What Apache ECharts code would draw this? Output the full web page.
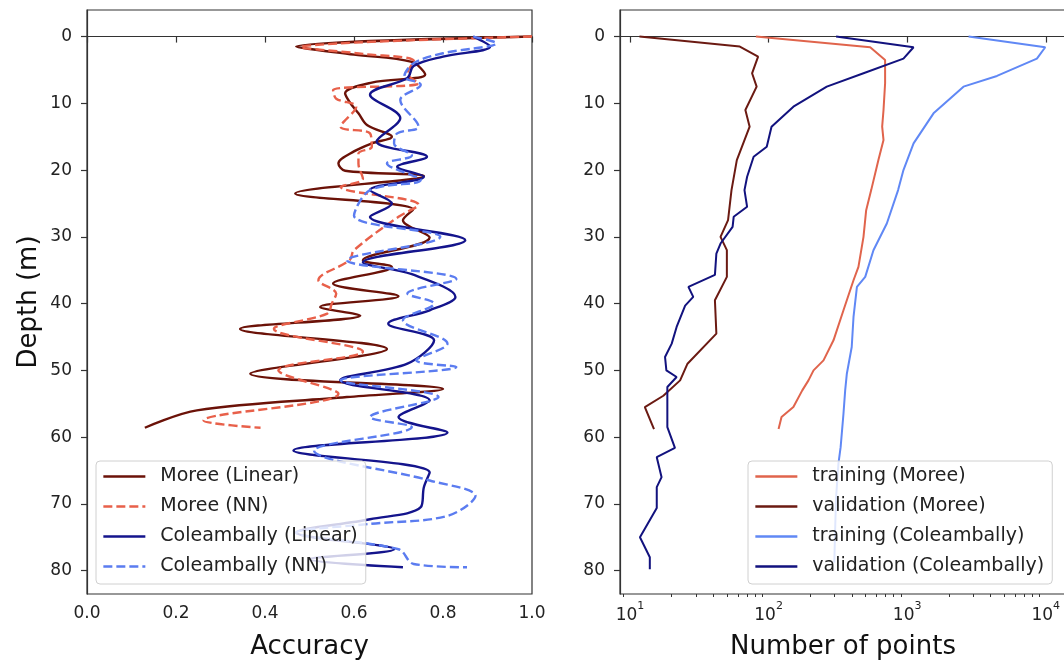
<!DOCTYPE html>
<html><head><meta charset="utf-8">
<script src="https://cdn.jsdelivr.net/npm/echarts@6/dist/echarts.min.js"></script>
<style>html,body{margin:0;padding:0;background:#fff}#c{width:1064px;height:663px}</style>
</head><body><div id="c"></div>
<script>
// ---- tick labels ----
const depthTicks = [0, 10, 20, 30, 40, 50, 60, 70, 80];
const countMajorTicks = [10, 100, 1000, 10000];
const countMinorTicks = [9, 20, 30, 40, 50, 60, 70, 80, 90, 200, 300, 400, 500, 600, 700, 800, 900, 2000, 3000, 4000, 5000, 6000, 7000, 8000, 9000];

// ---- left panel: accuracy vs depth ----
const mooreLinAcc   = [1.00, 0.47, 0.60, 0.73, 0.76, 0.64, 0.58, 0.59, 0.61, 0.63, 0.685, 0.64, 0.60, 0.565, 0.58, 0.757, 0.468, 0.733, 0.71, 0.77, 0.62, 0.685, 0.553, 0.70, 0.524, 0.614, 0.344, 0.674, 0.367, 0.80, 0.584, 0.247, 0.13];
const mooreLinDepth = [0, 1.5, 2.7, 3.8, 5.7, 6.9, 8.5, 9.8, 11.5, 13.3, 15, 16, 17.2, 19, 20.1, 20.9, 23.5, 25.9, 27.5, 30.1, 33.5, 34.5, 37, 38.9, 40.5, 41.8, 43.8, 46.8, 50.5, 52.8, 54, 56, 58.6];

const mooreNNAcc   = [1.0, 0.48, 0.62, 0.735, 0.72, 0.745, 0.553, 0.56, 0.605, 0.57, 0.636, 0.64, 0.61, 0.61, 0.62, 0.57, 0.745, 0.70, 0.60, 0.59, 0.52, 0.56, 0.55, 0.54, 0.42, 0.62, 0.43, 0.565, 0.262, 0.39];
const mooreNNDepth = [0, 1.6, 2.6, 3.7, 5.5, 7.0, 8.0, 9.3, 10.5, 13.5, 14.5, 16.5, 17.5, 19, 21.3, 22.5, 25.2, 27, 32, 33.5, 36.5, 38.5, 40, 41.5, 43.8, 47.2, 50, 53.5, 57.5, 58.6];

const coleLinAcc   = [0.868, 0.906, 0.80, 0.734, 0.72, 0.636, 0.704, 0.651, 0.764, 0.697, 0.757, 0.636, 0.685, 0.636, 0.85, 0.62, 0.73, 0.828, 0.77, 0.677, 0.78, 0.72, 0.569, 0.77, 0.70, 0.81, 0.464, 0.77, 0.757, 0.75, 0.636, 0.47, 0.69, 0.50, 0.71];
const coleLinDepth = [0, 1.5, 3.0, 4.4, 6.2, 8.7, 12.2, 15.7, 18, 19.5, 21, 23, 25, 27, 30.5, 33.8, 35.6, 39, 41, 43, 45.5, 49, 51.5, 54.5, 57, 59.3, 62, 65.3, 67.5, 70.5, 72.3, 74.3, 76.8, 78.3, 79.5];

const coleNNAcc   = [0.868, 0.92, 0.80, 0.734, 0.713, 0.75, 0.704, 0.745, 0.697, 0.69, 0.73, 0.674, 0.75, 0.636, 0.60, 0.794, 0.584, 0.83, 0.72, 0.78, 0.71, 0.81, 0.74, 0.83, 0.57, 0.79, 0.636, 0.73, 0.51, 0.77, 0.873, 0.81, 0.636, 0.47, 0.70, 0.734, 0.854];
const coleNNDepth = [0, 1, 2.5, 4, 6, 7.2, 9.5, 13.5, 14.5, 16, 17.8, 19, 21.5, 23, 26.8, 30, 33.5, 36.3, 38.5, 40, 42.5, 46, 48.5, 49.5, 51.5, 54, 57, 58.5, 62, 66.5, 68.8, 71.8, 73, 74.3, 76.8, 79, 79.5];

// ---- right panel: number of points vs depth ----
const trainMooreN     = [81, 541, 693, 693, 675, 660, 675, 620, 550, 506, 484, 445, 410, 347, 294, 249, 211, 194, 175, 151, 124, 118];
const trainMooreDepth = [0, 1.6, 3.5, 7, 11, 13.5, 15.5, 18.5, 23, 26, 30, 34.5, 36.5, 41, 45.5, 48.5, 50, 51.5, 53, 55.5, 57, 58.8];

const valMooreN     = [11.7, 62, 84, 76, 82, 68, 73, 59, 54, 51, 45, 50, 50, 41, 42, 26, 23, 17.4, 12.8, 14.9];
const valMooreDepth = [0, 1.5, 3, 5.5, 7.5, 11, 13.5, 18.5, 23, 27.5, 30, 32, 36, 39.5, 44.5, 49, 51.5, 53.8, 55.5, 58.8];

const trainColeN     = [2773, 9910, 8630, 4446, 2548, 1549, 1112, 940, 860, 713, 571, 498, 434, 410, 398, 367, 357, 347, 331, 319, 307, 302, 298];
const trainColeDepth = [0, 1.6, 3.3, 5.9, 7.5, 11.5, 16, 20, 23, 28, 32, 36, 37.5, 42, 46.5, 50.5, 53, 56.5, 61.5, 64, 69, 74, 78.8];

const valColeN     = [307, 1112, 940, 484, 263, 151, 105, 97, 78, 70, 67, 70, 56, 55, 45, 42, 41, 26.4, 28.6, 25, 21.7, 20, 17.9, 18.3, 21.7, 18.6, 18.6, 21.1, 15.6, 16.9, 15.6, 15.6, 11.8, 13.9, 13.9];
const valColeDepth = [0, 1.6, 3.3, 5.5, 7.5, 10.5, 13.5, 16.5, 18, 21, 23, 25.5, 27, 28.5, 31, 32.5, 35.7, 37.5, 39, 40.3, 43.5, 46, 48, 50, 51, 52.5, 58.5, 61.6, 63, 66, 67.5, 70.6, 75, 78, 79.8];

const FONT = 'DejaVu Sans';
const pairs = (xs, ds) => xs.map((x, i) => [x, ds[i]]);

function lineSeries(name, xs, ds, color, dashed, axis, smooth, width) {
  return {
    name, type: 'line', xAxisIndex: axis, yAxisIndex: axis,
    data: pairs(xs, ds), symbol: 'none', showSymbol: false,
    smooth: smooth, animation: false,
    lineStyle: { color, width: width, type: dashed ? [9, 4] : 'solid' },
    itemStyle: { color }
  };
}

const axisCommon = {
  axisLine: { show: true, lineStyle: { color: '#333', width: 1.2 } },
  axisTick: { show: true, inside: false, length: 6, lineStyle: { color: '#333', width: 1.2 } },
  splitLine: { show: false }
};
const tickFont = { color: '#222', fontSize: 17, fontFamily: FONT };
const nameFont = { color: '#111', fontSize: 26, fontFamily: FONT };

function yAxisFor(grid, withName) {
  return Object.assign({}, axisCommon, {
    type: 'value', gridIndex: grid, inverse: true, min: -3.98, max: 83.5,
    axisTick: Object.assign({}, axisCommon.axisTick, { customValues: depthTicks }),
    axisLabel: Object.assign({}, tickFont, { customValues: depthTicks, margin: 15 }),
    name: withName ? 'Depth (m)' : '', nameLocation: 'middle', nameGap: 45, nameRotate: 90,
    nameTextStyle: nameFont
  });
}

const legendCommon = {
  orient: 'vertical', itemWidth: 42, itemHeight: 14, itemGap: 11,
  padding: [6, 8, 8, 6], backgroundColor: 'rgba(255,255,255,0.8)',
  borderColor: '#d0d0d0', borderWidth: 1, borderRadius: 4, selectedMode: false,
  itemStyle: { color: 'transparent', borderColor: 'transparent', borderWidth: 0, opacity: 0 },
  lineStyle: { width: 2.7 },
  textStyle: { fontSize: 19, lineHeight: 19, fontFamily: FONT, color: '#222', padding: [0, 0, 0, 10] }
};

const option = {
  animation: false,
  backgroundColor: '#ffffff',
  grid: [
    { left: 87, top: 10, width: 445, height: 584, show: true, borderColor: '#333', borderWidth: 1.2, containLabel: false, outerBoundsMode: 'none' },
    { left: 620, top: 10, width: 446, height: 584, show: true, borderColor: '#333', borderWidth: 1.2, containLabel: false, outerBoundsMode: 'none' }
  ],
  xAxis: [
    Object.assign({}, axisCommon, {
      type: 'value', gridIndex: 0, min: 0, max: 1, interval: 0.2, position: 'bottom',
      axisLabel: Object.assign({}, tickFont, { margin: 11, formatter: v => v.toFixed(1) }),
      name: 'Accuracy', nameLocation: 'middle', nameGap: 40, nameTextStyle: nameFont
    }),
    Object.assign({}, axisCommon, {
      type: 'log', logBase: 10, gridIndex: 1, min: 8.47, max: 13996, position: 'bottom',
      axisTick: Object.assign({}, axisCommon.axisTick, { customValues: countMajorTicks }),
      axisLabel: {
        customValues: countMajorTicks, margin: 7,
        formatter: v => '{b|10}{s|' + Math.round(Math.log10(v)) + '}',
        rich: {
          b: { fontSize: 17, fontFamily: FONT, color: '#222', lineHeight: 23, verticalAlign: 'bottom' },
          s: { fontSize: 11, fontFamily: FONT, color: '#222', lineHeight: 23, verticalAlign: 'top' }
        }
      },
      name: 'Number of points', nameLocation: 'middle', nameGap: 40, nameTextStyle: nameFont
    }),
    {
      type: 'log', logBase: 10, gridIndex: 1, min: 8.47, max: 13996, position: 'bottom',
      axisLine: { show: false }, axisLabel: { show: false }, splitLine: { show: false },
      axisTick: { show: true, length: 3, customValues: countMinorTicks, lineStyle: { color: '#333', width: 1 } }
    }
  ],
  yAxis: [yAxisFor(0, true), yAxisFor(1, false)],
  legend: [
    Object.assign({}, legendCommon, { left: 96, top: 461,
      data: ['Moree (Linear)', 'Moree (NN)', 'Coleambally (Linear)', 'Coleambally (NN)'] }),
    Object.assign({}, legendCommon, { left: 748, top: 461,
      data: ['training (Moree)', 'validation (Moree)', 'training (Coleambally)', 'validation (Coleambally)'] })
  ],
  series: [
    lineSeries('Moree (Linear)', mooreLinAcc, mooreLinDepth, '#6b1208', false, 0, 0.35, 2.4),
    lineSeries('Moree (NN)', mooreNNAcc, mooreNNDepth, '#e8604a', true, 0, 0.35, 2.4),
    lineSeries('Coleambally (Linear)', coleLinAcc, coleLinDepth, '#14148c', false, 0, 0.35, 2.4),
    lineSeries('Coleambally (NN)', coleNNAcc, coleNNDepth, '#5b7cf0', true, 0, 0.35, 2.4),
    lineSeries('training (Moree)', trainMooreN, trainMooreDepth, '#e0644c', false, 1, false, 2),
    lineSeries('validation (Moree)', valMooreN, valMooreDepth, '#6b1a12', false, 1, false, 2),
    lineSeries('training (Coleambally)', trainColeN, trainColeDepth, '#6088f5', false, 1, false, 2),
    lineSeries('validation (Coleambally)', valColeN, valColeDepth, '#12127e', false, 1, false, 2)
  ]
};

const chart = echarts.init(document.getElementById('c'), null, { renderer: 'canvas' });
chart.setOption(option);
</script>
</body></html>
